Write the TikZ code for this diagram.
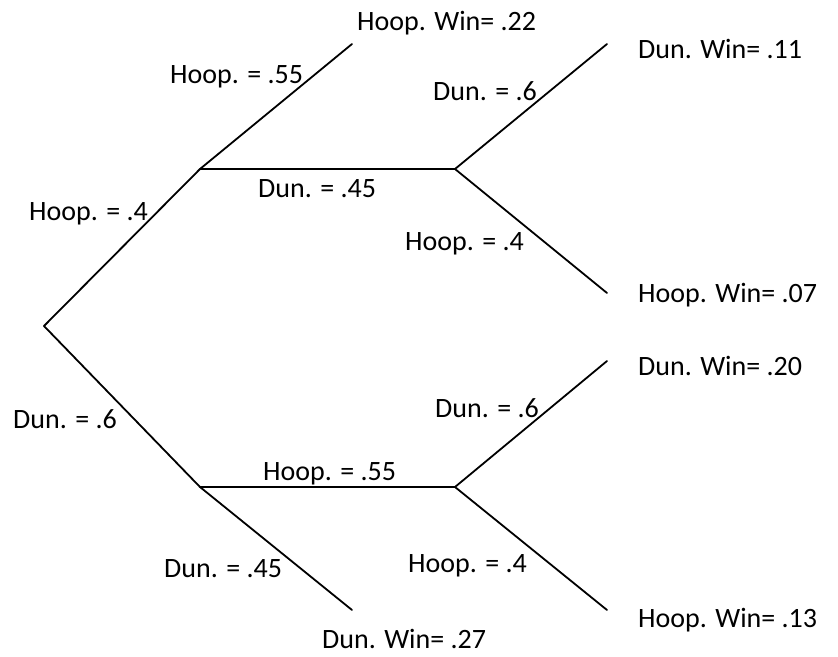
\documentclass[tikz,border=0pt]{standalone}
\usepackage{fontspec}
\setmainfont{Carlito}
\begin{document}
\begin{tikzpicture}[x=1pt,y=-1pt,
  branch/.style={line width=1.8pt,line cap=round,line join=round},
  lbl/.style={anchor=base west,inner sep=0pt,font=\fontsize{28}{34}\selectfont}]
\useasboundingbox (0,0) rectangle (838,656);
% branch points
\coordinate (r) at (44,326);
\coordinate (a) at (200,169);
\coordinate (b) at (200,487);
\coordinate (aa) at (352,44);
\coordinate (ab) at (455,169);
\coordinate (aba) at (607,44);
\coordinate (abb) at (607,293);
\coordinate (ba) at (455,487);
\coordinate (bb) at (352,610);
\coordinate (baa) at (607,361);
\coordinate (bab) at (607,610);
% branches
\draw[branch] (r) -- (a);
\draw[branch] (r) -- (b);
\draw[branch] (a) -- (aa);
\draw[branch] (a) -- (ab);
\draw[branch] (ab) -- (aba);
\draw[branch] (ab) -- (abb);
\draw[branch] (b) -- (ba);
\draw[branch] (b) -- (bb);
\draw[branch] (ba) -- (baa);
\draw[branch] (ba) -- (bab);
% branch labels
\node[lbl] (l1) at (29,220) {Hoop. = .4};
\node[lbl] (l2) at (13,428) {Dun. = .6};
\node[lbl] (l3) at (170,83) {Hoop. = .55};
\node[lbl] (l4) at (258,197) {Dun. = .45};
\node[lbl] (l5) at (433,100) {Dun. = .6};
\node[lbl] (l6) at (405,250) {Hoop. = .4};
\node[lbl] (l7) at (263,480) {Hoop. = .55};
\node[lbl] (l8) at (164,577) {Dun. = .45};
\node[lbl] (l9) at (435,417) {Dun. = .6};
\node[lbl] (l10) at (408,572) {Hoop. = .4};
% outcomes
\node[lbl] (o1) at (357,30) {Hoop. Win= .22};
\node[lbl] (o2) at (638,58) {Dun. Win= .11};
\node[lbl] (o3) at (638,302) {Hoop. Win= .07};
\node[lbl] (o4) at (638,375) {Dun. Win= .20};
\node[lbl] (o5) at (638,627) {Hoop. Win= .13};
\node[lbl] (o6) at (322,648) {Dun. Win= .27};
\end{tikzpicture}
\end{document}
